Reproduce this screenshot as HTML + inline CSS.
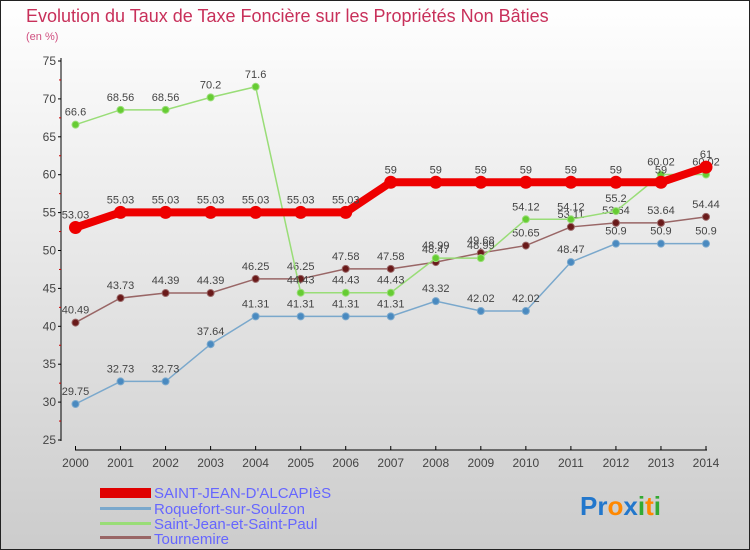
<!DOCTYPE html>
<html><head><meta charset="utf-8"><style>
body{margin:0}
#c{width:750px;height:550px;position:relative;font-family:"Liberation Sans",sans-serif;overflow:hidden}
</style></head><body>
<div id="c">
<svg id="s" width="750" height="550" xmlns="http://www.w3.org/2000/svg">
<defs><linearGradient id="bg" x1="0" y1="0" x2="0" y2="1"><stop offset="0" stop-color="#ffffff"/><stop offset="1" stop-color="#cccccc"/></linearGradient></defs>
<rect x="0.5" y="0.5" width="749" height="549" fill="url(#bg)" stroke="#222"/>
<text x="26" y="22" font-size="18" fill="#c8305a">Evolution du Taux de Taxe Foncière sur les Propriétés Non Bâties</text>
<text x="26" y="40" font-size="11" fill="#d05080">(en %)</text>
<g id="axes"></g><g id="series"></g>
<g>
<rect x="100" y="488" width="51" height="10" fill="#e00000"/>
<text x="154" y="498" font-size="15" fill="#6666ff">SAINT-JEAN-D'ALCAPIèS</text>
<rect x="100" y="507" width="51" height="3" fill="#7aa8cc"/>
<text x="154" y="514" font-size="15" fill="#6666ff">Roquefort-sur-Soulzon</text>
<rect x="100" y="522" width="51" height="3" fill="#99dd77"/>
<text x="154" y="529" font-size="15" fill="#6666ff">Saint-Jean-et-Saint-Paul</text>
<rect x="100" y="536" width="51" height="3" fill="#996666"/>
<text x="154" y="544" font-size="15" fill="#6666ff">Tournemire</text>
</g>
<text x="580" y="515" font-size="26" font-weight="bold"><tspan fill="#2277cc">Pr</tspan><tspan fill="#ff8800">o</tspan><tspan fill="#2277cc">x</tspan><tspan fill="#33aa33">i</tspan><tspan fill="#ff8800">t</tspan><tspan fill="#33aa33">i</tspan></text>
</svg></div>
<script>
const years=[2000,2001,2002,2003,2004,2005,2006,2007,2008,2009,2010,2011,2012,2013,2014];
const yTicks=[25,30,35,40,45,50,55,60,65,70,75];
const sja=[53.03,55.03,55.03,55.03,55.03,55.03,55.03,59,59,59,59,59,59,59,61];
const roq=[29.75,32.73,32.73,37.64,41.31,41.31,41.31,41.31,43.32,42.02,42.02,48.47,50.9,50.9,50.9];
const sjsp=[66.6,68.56,68.56,70.2,71.6,44.43,44.43,44.43,48.99,48.99,54.12,54.12,55.2,60.02,60.02];
const tour=[40.49,43.73,44.39,44.39,46.25,46.25,47.58,47.58,48.47,49.68,50.65,53.11,53.64,53.64,54.44];
const NS='http://www.w3.org/2000/svg';
const X=i=>75.5+i*(706-75.5)/14;
const Y=v=>440-(v-25)*(440-61)/50;
function mk(t,a,p){const e=document.createElementNS(NS,t);for(const k in a)e.setAttribute(k,a[k]);p.appendChild(e);return e;}
const ax=document.getElementById('axes');
mk('line',{x1:61,y1:58,x2:61,y2:441,stroke:'#000'},ax);
mk('line',{x1:75,y1:450,x2:707,y2:450,stroke:'#000'},ax);
yTicks.forEach(v=>{
 mk('line',{x1:58,y1:Y(v),x2:61,y2:Y(v),stroke:'#000'},ax);
 if(v<75) mk('line',{x1:59,y1:Y(v+2.5),x2:61,y2:Y(v+2.5),stroke:'#c00'},ax);
 const t=mk('text',{x:56,y:Y(v)+4,'font-size':12,fill:'#444','text-anchor':'end'},ax);t.textContent=v;
 
 
});
years.forEach((y,i)=>{
 mk('line',{x1:X(i),y1:446,x2:X(i),y2:450,stroke:'#000'},ax);
 const t=mk('text',{x:X(i),y:467,'font-size':12,fill:'#444','text-anchor':'middle'},ax);t.textContent=y;
 
 
});
const sg=document.getElementById('series');
function draw(vals,name,col,fill,w,r){
 const g=mk('g',{},sg);
 
 
 mk('polyline',{points:vals.map((v,i)=>X(i)+','+Y(v)).join(' '),fill:'none',stroke:col,'stroke-width':w},g);
 vals.forEach((v,i)=>{
  const c=mk('circle',{cx:X(i),cy:Y(v),r:r,fill:fill,stroke:col,'stroke-width':1},g);
  
  
  const t=mk('text',{x:X(i),y:Y(v)-9,'font-size':11,fill:'#444','text-anchor':'middle'},g);
  t.textContent=String(v);
  
  
 });
}
draw(roq,'roquefort','#7aa8cc','#4a8ac0',1.5,3.5);
draw(tour,'tournemire','#996666','#6a1a1a',1.5,3.5);
draw(sjsp,'saint-jean-et-saint-paul','#99dd77','#66cc33',1.5,3.5);
draw(sja,'saint-jean-d-alcapies','#ee0000','#ee0000',8,6);
</script>
</body></html>
